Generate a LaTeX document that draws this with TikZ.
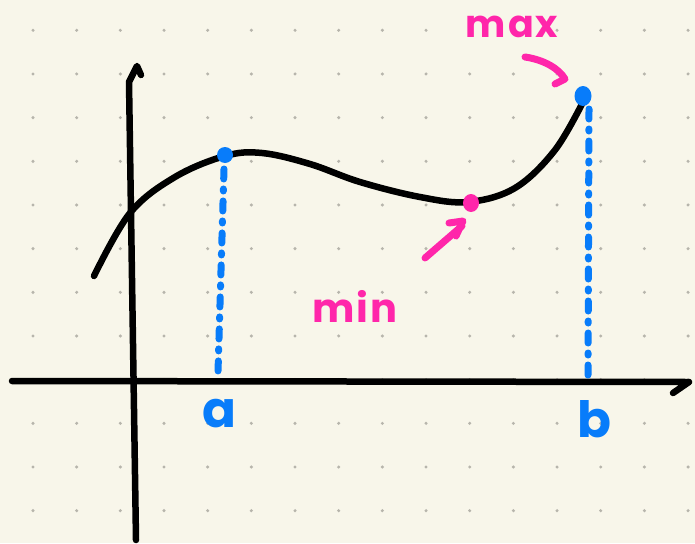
\documentclass[tikz,border=0pt]{standalone}
\usepackage{fontspec}
\setmainfont{Poppins}[UprightFont=* Bold]
\usepackage{tikz}
\usetikzlibrary{calc}
\definecolor{paper}{RGB}{248,246,234}
\definecolor{gridgray}{RGB}{183,181,172}
\definecolor{penblue}{RGB}{8,124,250}
\definecolor{penpink}{RGB}{255,38,170}
\newcommand{\hand}[1]{\fontsize{#1}{#1}\selectfont\addfontfeatures{LetterSpace=5}}

\begin{document}
\begin{tikzpicture}[x=1pt, y=-1pt,
    axis/.style={
            draw=black,
            line width=6.5pt,
            line cap=round,
            line join=round
        },
        curveline/.style={
            draw=black,
            line width=6.5pt,
            line cap=round
        },
        dropline/.style={
            draw=penblue,
            line width=7pt,
            line cap=round,
            dash pattern=on 10pt off 10pt on 2pt off 10pt
        },
        pinkarrow/.style={
            draw=penpink,
            line width=7pt,
            line cap=round,
            line join=round
        },
        lbl/.style={inner sep=0pt, anchor=center},
        gridpt/.style={fill=gridgray}
]

    % paper and dot grid
    \fill[paper] (0,0) rectangle (695,543);
    \useasboundingbox (0,0) rectangle (695,543);
    \foreach \i in {0,...,15}
        \foreach \j in {0,...,11}
            \fill[gridpt] ({33+43.67*\i},{30.3+43.67*\j}) circle (1.7);

    % axes
    \coordinate (xstart) at (12,381);
    \coordinate (xend) at (689,382);
    \coordinate (xhook) at (673,393);
    \coordinate (ystart) at (136,540);
    \coordinate (yend) at (129,82);
    \coordinate (ytip) at (137,66);
    \coordinate (yhook) at (141,75);
    \draw[axis] (xstart) -- (xend) -- (xhook);
    \draw[axis] (ystart) -- (yend) -- (ytip) -- (yhook);

    % the function
    \draw[curveline] plot[smooth, tension=0.6] coordinates {
        (94,276) (130,213) (175,177) (225,156) (262,153) (310,164)
        (360,182) (420,197) (468,202) (515,188) (555,150) (584,100)};

    % end points and drop lines
    \coordinate (A) at (225,155);
    \coordinate (Abase) at (218,372);
    \coordinate (B) at (583,96);
    \coordinate (Bbase) at (588,375);
    \draw[dropline] ($(A)+(-1,14)$) -- (Abase);
    \draw[dropline] ($(B)+(6,13)$) -- (Bbase);
    \fill[penblue] (A) circle (8);
    \fill[penblue] (B) ellipse (8.5 and 10);

    \node[lbl, text=penblue] (alabel) at (219,414) {\hand{50}a};
    \node[lbl, text=penblue] (blabel) at (594,419) {\hand{50}b};

    % minimum
    \coordinate (M) at (471,203);
    \fill[penpink] (M) ellipse (8 and 9);
    \coordinate (mintail) at (425,258);
    \coordinate (minhead) at (462,226);
    \draw[pinkarrow] (mintail) -- (minhead);
    \draw[pinkarrow] (449,223) -- (463,221) -- (456,236);
    \node[lbl, text=penpink] (minlabel) at (355,306) {\hand{40}min};

    % maximum
    \coordinate (maxtail) at (525,57);
    \coordinate (maxhead) at (565,79);
    \draw[pinkarrow] (maxtail) .. controls (545,60) and (559,69) .. (maxhead) -- (555,84);
    \node[lbl, text=penpink] (maxlabel) at (512,27) {\hand{38}max};
\end{tikzpicture}
\end{document}
